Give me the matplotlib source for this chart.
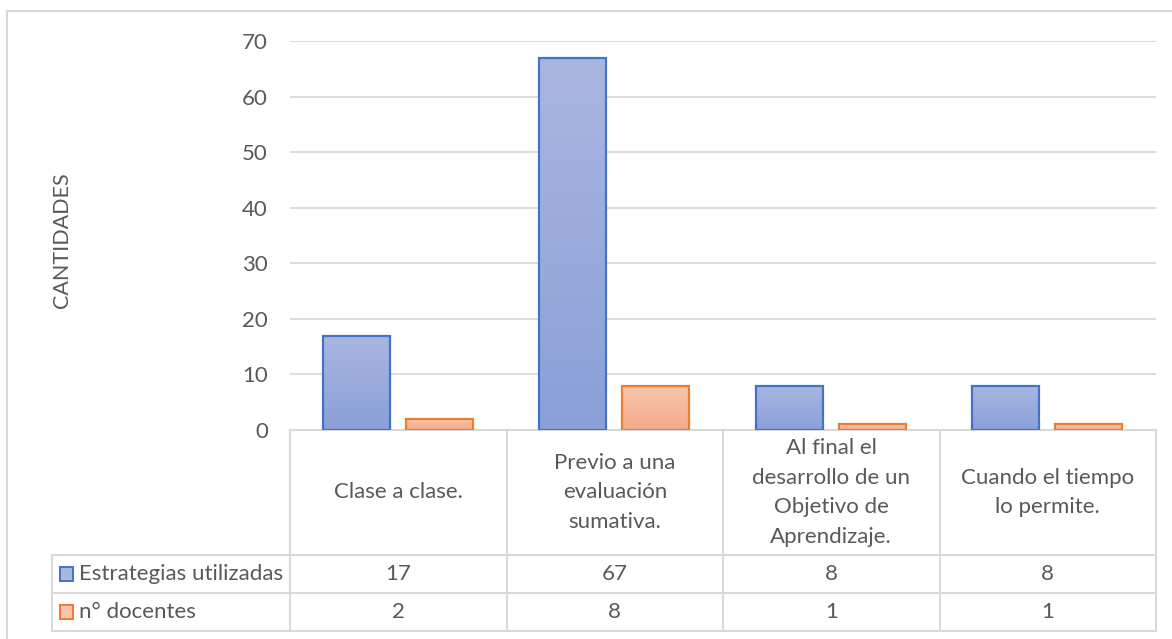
import numpy as np
import matplotlib.pyplot as plt
from matplotlib.patches import Rectangle
from matplotlib.transforms import blended_transform_factory

categorias = ['Clase a clase.',
              'Previo a una\nevaluación\nsumativa.',
              'Al final el\ndesarrollo de un\nObjetivo de\nAprendizaje.',
              'Cuando el tiempo\nlo permite.']
estrategias = [17, 67, 8, 8]
docentes = [2, 8, 1, 1]
series = ['Estrategias utilizadas', 'n° docentes']
yticks = [0, 10, 20, 30, 40, 50, 60, 70]

plt.rcParams['font.family'] = ['Lato', 'DejaVu Sans']
gris = '#595959'
linea = '#d9d9d9'
azul, azul_claro, azul_osc = '#4472c4', '#a9b6e0', '#8aa0d9'
naranja, nar_claro, nar_osc = '#ed7d31', '#f8c6ad', '#f4ab89'
fs = 16

W, H = 1172, 639
fig = plt.figure(figsize=(W / 100, H / 100), dpi=100)

# pixel-space overlay for the data table and frame
over = fig.add_axes([0, 0, 1, 1], zorder=0)
over.set_xlim(0, W)
over.set_ylim(H, 0)
over.axis('off')

x0, x1, y70, y0 = 290, 1156, 41, 430
ax = fig.add_axes([x0 / W, 1 - y0 / H, (x1 - x0) / W, (y0 - y70) / H], zorder=1)
ax.patch.set_alpha(0)
ax.set_xlim(0, 4)
ax.set_ylim(0, 70)
ax.set_yticks(yticks)
ax.set_xticks([])
ax.tick_params(axis='y', length=0, pad=16, labelsize=fs, labelcolor=gris)
for s in ax.spines.values():
    s.set_visible(False)
ax.grid(axis='y', color=linea, lw=1.3)
ax.set_axisbelow(True)
over.text(62, 240, 'CANTIDADES', rotation=90, ha='center', va='center',
          fontsize=15.5, color=gris)


def barras(offset, valores, borde, claro, oscuro):
    grad = np.linspace(0, 1, 256).reshape(-1, 1)
    cmap = plt.matplotlib.colors.LinearSegmentedColormap.from_list('g', [claro, oscuro])
    cont = ax.bar(np.arange(4) + offset, valores, width=0.31,
                  facecolor='none', edgecolor=borde, lw=1.6, zorder=3)
    for p in cont.patches:
        xb, w, h = p.get_x(), p.get_width(), p.get_height()
        im = ax.imshow(grad, cmap=cmap, aspect='auto', extent=(xb, xb + w, 0, h),
                       origin='upper', zorder=2)
        im.set_clip_path(p)
    ax.set_xlim(0, 4)
    ax.set_ylim(0, 70)


barras(0.306, estrategias, azul, azul_claro, azul_osc)
barras(0.689, docentes, naranja, nar_claro, nar_osc)

# data table below the axis
tr = blended_transform_factory(ax.transData, over.transData)
r1, r2, r3 = 555, 593, 631
lx = 52
kw = dict(color=linea, lw=1.5, zorder=1)
over.plot([x0, x1], [y0, y0], **kw)
for yy in (r1, r2, r3):
    over.plot([lx, x1], [yy, yy], **kw)
over.plot([lx, lx], [r1, r3], **kw)
for i in range(5):
    ax.plot([i, i], [y0, r3], transform=tr, clip_on=False, **kw)

for i, cat in enumerate(categorias):
    over.text(i + 0.5, (y0 + r1) / 2, cat, transform=tr, ha='center', va='center',
              fontsize=fs, color=gris, linespacing=1.6)
    over.text(i + 0.5, (r1 + r2) / 2, str(estrategias[i]), transform=tr,
              ha='center', va='center', fontsize=fs, color=gris)
    over.text(i + 0.5, (r2 + r3) / 2, str(docentes[i]), transform=tr,
              ha='center', va='center', fontsize=fs, color=gris)

for (yy, nombre, borde, relleno) in [((r1 + r2) / 2, series[0], azul, azul_claro),
                                     ((r2 + r3) / 2, series[1], naranja, nar_claro)]:
    over.add_patch(Rectangle((60, yy - 7), 13, 14, facecolor=relleno,
                             edgecolor=borde, lw=1.4))
    over.text(79, yy, nombre, ha='left', va='center', fontsize=fs, color=gris)

# chart frame
over.plot([7, 7], [11, H + 5], color=linea, lw=1.5)
over.plot([7, W + 5], [11, 11], color=linea, lw=1.5)

fig.savefig('out.png', dpi=100)
